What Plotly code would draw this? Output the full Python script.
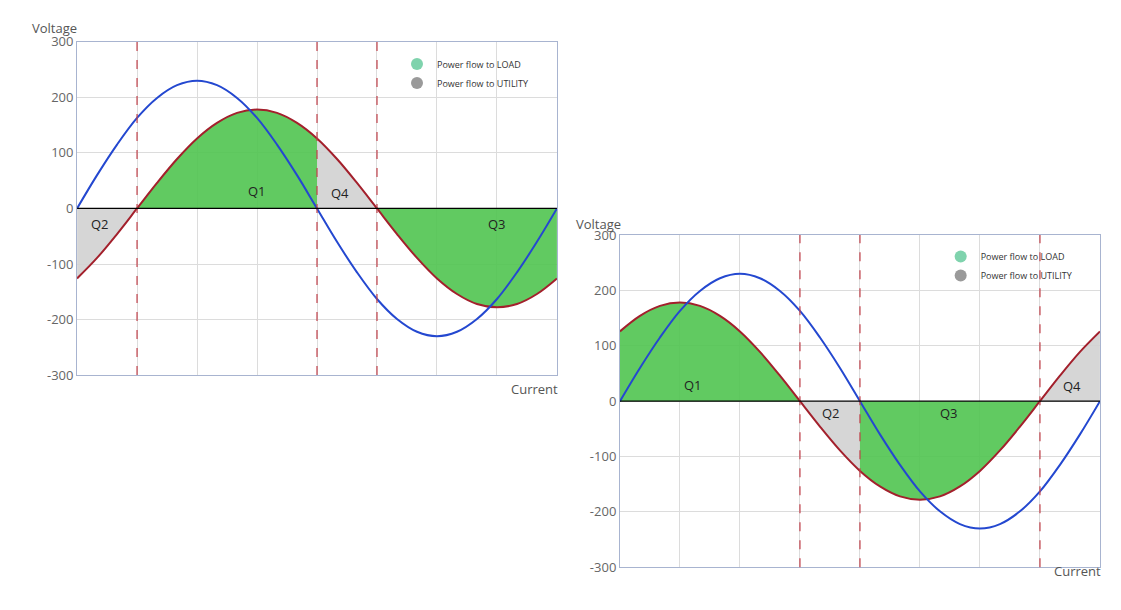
import plotly.graph_objects as go

angle = list(range(0, 361, 15))
voltage = [0, 60, 115, 163, 199, 222, 230, 222, 199, 163, 115, 60, 0,
           -60, -115, -163, -199, -222, -230, -222, -199, -163, -115, -60, 0]
current_lag = [-126, -89, -46, 0, 46, 89, 126, 154, 172, 178, 172, 154, 126,
               89, 46, 0, -46, -89, -126, -154, -172, -178, -172, -154, -126]
current_lead = [126, 154, 172, 178, 172, 154, 126, 89, 46, 0, -46, -89, -126,
                -154, -172, -178, -172, -154, -126, -89, -46, 0, 46, 89, 126]
left_segments = [(0, 45, "U"), (45, 180, "L"), (180, 225, "U"), (225, 360, "L")]
right_segments = [(0, 135, "L"), (135, 180, "U"), (180, 315, "L"), (315, 360, "U")]
left_dashes = [45, 180, 225]
right_dashes = [135, 180, 315]
left_labels = [("Q2", 17, -28), ("Q1", 135, 32), ("Q4", 197, 28), ("Q3", 315, -28)]
right_labels = [("Q1", 55, 30), ("Q2", 158, -22), ("Q3", 247, -22), ("Q4", 339, 28)]
yticks = [-300, -200, -100, 0, 100, 200, 300]
ytext = ["-300", "-200", "-100", "0", "100", "200", "300"]

BLUE = "#2448d0"
RED = "#a3202c"
GREEN = "rgba(80,196,80,0.9)"
GRAY = "rgba(210,210,210,0.9)"

fig = go.Figure()

def panel(cur, segs, dashes, labels, xa, ya, legend):
    xr, yr = "x" if xa == 1 else f"x{xa}", "y" if ya == 1 else f"y{ya}"
    for a0, a1, t in segs:
        xs = [a for a in angle if a0 <= a <= a1]
        ys = [cur[angle.index(a)] for a in xs]
        fig.add_trace(go.Scatter(x=xs, y=ys, mode="lines", line=dict(width=0, shape="spline"),
                                 fill="tozeroy", fillcolor=GREEN if t == "L" else GRAY,
                                 showlegend=False, hoverinfo="skip", xaxis=xr, yaxis=yr))
    fig.add_trace(go.Scatter(x=angle, y=cur, mode="lines", line=dict(color=RED, width=2, shape="spline"),
                             showlegend=False, xaxis=xr, yaxis=yr))
    fig.add_trace(go.Scatter(x=angle, y=voltage, mode="lines", line=dict(color=BLUE, width=2, shape="spline"),
                             showlegend=False, xaxis=xr, yaxis=yr))
    for name, c in [("Power flow to LOAD", "#7fd3ad"), ("Power flow to UTILITY", "#9a9a9a")]:
        fig.add_trace(go.Scatter(x=[None], y=[None], mode="markers", name=name,
                                 marker=dict(color=c, size=11), legend=legend, xaxis=xr, yaxis=yr))
    for d in dashes:
        fig.add_shape(type="line", x0=d, x1=d, y0=0, y1=1, xref=xr, yref=f"{yr} domain",
                      line=dict(color="#c0404a", width=1.2, dash="dash"))
    fig.add_shape(type="line", x0=0, x1=360, y0=0, y1=0, xref=xr, yref=yr, line=dict(color="black", width=1.2))
    for txt, a, v in labels:
        fig.add_annotation(x=a, y=v, xref=xr, yref=yr, text=txt, showarrow=False,
                           font=dict(size=13, color="#222"))

panel(current_lag, left_segments, left_dashes, left_labels, 1, 1, "legend")
panel(current_lead, right_segments, right_dashes, right_labels, 2, 2, "legend2")

axx = dict(range=[0, 360], dtick=45, showticklabels=False, showgrid=True, gridcolor="#dcdcdc",
           showline=True, linecolor="#a8b4d0", mirror=True, zeroline=False)
axy = dict(range=[-300, 300], tickvals=yticks, ticktext=ytext, showgrid=True, gridcolor="#dcdcdc",
           showline=True, linecolor="#a8b4d0", mirror=True, zeroline=False, ticks="",
           tickfont=dict(size=13, color="#666"))
leg = dict(font=dict(size=9, color="#333"), bgcolor="rgba(0,0,0,0)", itemsizing="constant",
           xanchor="left", yanchor="top", tracegroupgap=0)
fig.update_layout(
    width=1121, height=610, margin=dict(l=0, r=0, t=0, b=0),
    paper_bgcolor="white", plot_bgcolor="white",
    font=dict(family="Open Sans, sans-serif"),
    xaxis=dict(axx, domain=[0.0616, 0.4897], anchor="y"),
    yaxis=dict(axy, domain=[0.3951, 0.9581], anchor="x"),
    xaxis2=dict(axx, domain=[0.5459, 0.9741], anchor="y2"),
    yaxis2=dict(axy, domain=[0.0705, 0.6317], anchor="x2"),
    legend=dict(leg, x=0.347, y=0.945),
    legend2=dict(leg, x=0.832, y=0.62),
)
for txt, x, y in [("Voltage", 0.020, 1.0), ("Current", 0.4925, 0.3715),
                  ("Voltage", 0.505, 0.669), ("Current", 0.977, 0.045)]:
    fig.add_annotation(x=x, y=y, xref="paper", yref="paper", text=txt, showarrow=False,
                       xanchor="left" if txt == "Voltage" else "right",
                       font=dict(size=13, color="#555"))
fig.write_html("out.html")
